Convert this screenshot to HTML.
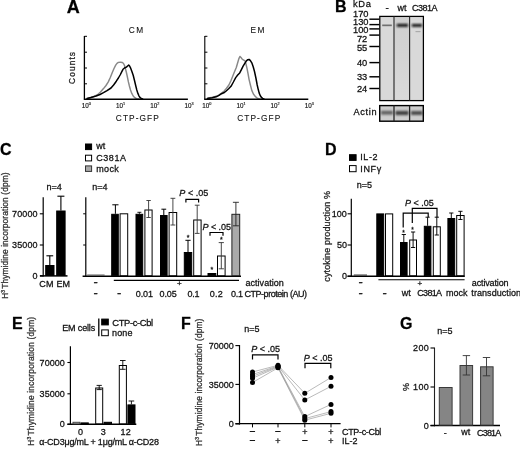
<!DOCTYPE html>
<html><head><meta charset="utf-8"><title>Figure</title>
<style>html,body{margin:0;padding:0;background:#fff}svg{display:block;filter:blur(0.35px)}text{font-family:'Liberation Sans', sans-serif;stroke:#222;stroke-width:0.28px;paint-order:stroke}</style></head><body>
<svg width="520" height="449" viewBox="0 0 520 449">
<rect width="520" height="449" fill="#fff"/>
<text x="66.8" y="12.7" font-size="18" text-anchor="start" font-weight="bold" fill="#000" >A</text>
<line x1="84.4" y1="36" x2="84.4" y2="99.8" stroke="#000" stroke-width="1.3" />
<line x1="84.4" y1="36.3" x2="87.0" y2="36.3" stroke="#000" stroke-width="1.0" />
<line x1="84.4" y1="52.2" x2="87.0" y2="52.2" stroke="#000" stroke-width="1.0" />
<line x1="84.4" y1="68" x2="87.0" y2="68" stroke="#000" stroke-width="1.0" />
<line x1="84.4" y1="83.8" x2="87.0" y2="83.8" stroke="#000" stroke-width="1.0" />
<path d="M88.1 98.3 L93.0 96.8 L97.5 94.7 L100.5 92.0 L103.5 88.6 L106.0 85.5 L108.3 81.9 L110.3 77.5 L112.3 72.5 L114.0 68.5 L115.7 65.1 L117.0 63.3 L118.4 62.4 L120.4 62.2 L122.4 62.5 L123.5 63.5 L124.4 65.3 L125.4 68.5 L126.4 72.5 L127.4 77.0 L128.4 81.9 L129.4 86.0 L130.5 90.0 L131.8 93.4 L133.2 96.0 L134.8 97.7 L136.5 98.7 L139.0 99.0" fill="none" stroke="#888" stroke-width="1.45" stroke-linejoin="round" stroke-linecap="round"/>
<path d="M87.0 98.4 L91.0 97.5 L96.1 96.0 L100.0 94.5 L103.5 92.7 L107.0 90.6 L111.0 88.0 L113.6 85.0 L116.3 81.2 L118.4 78.0 L120.4 74.5 L121.7 71.8 L123.0 69.3 L124.5 68.0 L126.4 67.1 L127.6 66.0 L128.7 65.1 L129.6 66.0 L130.5 67.8 L131.8 71.2 L133.2 75.2 L134.5 80.5 L135.8 86.0 L136.8 90.0 L137.9 93.4 L138.9 95.8 L139.9 97.4 L141.2 98.5 L142.6 99.0" fill="none" stroke="#000" stroke-width="1.5" stroke-linejoin="round" stroke-linecap="round"/>
<line x1="83.9" y1="99.2" x2="187.9" y2="99.2" stroke="#000" stroke-width="1.6" />
<text x="136.8" y="32.7" font-size="8.3" text-anchor="middle" font-weight="normal" fill="#111" letter-spacing="1.5" style="stroke-width:0.1px">CM</text>
<text x="137.3" y="121" font-size="8.3" text-anchor="middle" font-weight="normal" fill="#111" textLength="43" lengthAdjust="spacing" style="stroke-width:0.1px">CTP-GFP</text>
<text x="81.8" y="107.5" font-size="6.3" fill="#111" style="stroke-width:0.15px">10<tspan font-size="3.8" dy="-2.3">0</tspan></text>
<text x="116.0" y="107.5" font-size="6.3" fill="#111" style="stroke-width:0.15px">10<tspan font-size="3.8" dy="-2.3">1</tspan></text>
<text x="150.2" y="107.5" font-size="6.3" fill="#111" style="stroke-width:0.15px">10<tspan font-size="3.8" dy="-2.3">2</tspan></text>
<text x="184.4" y="107.5" font-size="6.3" fill="#111" style="stroke-width:0.15px">10<tspan font-size="3.8" dy="-2.3">3</tspan></text>
<line x1="204.8" y1="36" x2="204.8" y2="99.8" stroke="#000" stroke-width="1.1" />
<line x1="204.8" y1="36.3" x2="207.4" y2="36.3" stroke="#000" stroke-width="1.0" />
<line x1="204.8" y1="52.2" x2="207.4" y2="52.2" stroke="#000" stroke-width="1.0" />
<line x1="204.8" y1="68" x2="207.4" y2="68" stroke="#000" stroke-width="1.0" />
<line x1="204.8" y1="83.8" x2="207.4" y2="83.8" stroke="#000" stroke-width="1.0" />
<path d="M208.1 98.0 L213.0 97.2 L217.5 95.8 L221.0 93.6 L224.2 91.0 L226.5 88.3 L228.9 85.0 L231.0 80.5 L233.0 75.6 L234.6 71.5 L236.3 67.5 L237.6 63.0 L239.0 58.3 L240.0 56.4 L241.2 57.8 L242.4 59.4 L243.8 60.1 L245.1 61.0 L246.1 64.5 L247.1 68.8 L248.1 74.0 L249.1 79.6 L250.4 85.0 L251.8 90.4 L253.4 94.0 L255.2 96.4 L256.8 97.8 L258.5 98.7 L260.0 99.0" fill="none" stroke="#888" stroke-width="1.45" stroke-linejoin="round" stroke-linecap="round"/>
<path d="M207.4 98.4 L212.0 97.8 L216.2 96.8 L219.0 95.4 L221.5 93.7 L223.8 92.8 L226.2 91.0 L228.6 88.8 L231.0 86.3 L233.4 82.0 L235.7 77.6 L237.7 75.0 L239.7 72.9 L241.4 69.6 L243.1 66.2 L244.8 63.3 L246.4 60.8 L247.8 59.7 L249.1 59.4 L250.4 60.6 L251.8 62.8 L253.2 66.8 L254.5 71.5 L255.9 78.0 L257.2 85.0 L258.2 89.3 L259.2 93.1 L260.2 95.5 L261.2 97.1 L262.5 98.4 L263.9 99.0" fill="none" stroke="#000" stroke-width="1.5" stroke-linejoin="round" stroke-linecap="round"/>
<line x1="204.3" y1="99.2" x2="308.3" y2="99.2" stroke="#000" stroke-width="1.6" />
<text x="258.2" y="32.7" font-size="8.3" text-anchor="middle" font-weight="normal" fill="#111" letter-spacing="1.5" style="stroke-width:0.1px">EM</text>
<text x="258.7" y="121" font-size="8.3" text-anchor="middle" font-weight="normal" fill="#111" textLength="43" lengthAdjust="spacing" style="stroke-width:0.1px">CTP-GFP</text>
<text x="202.2" y="107.5" font-size="6.3" fill="#111" style="stroke-width:0.15px">10<tspan font-size="3.8" dy="-2.3">0</tspan></text>
<text x="236.4" y="107.5" font-size="6.3" fill="#111" style="stroke-width:0.15px">10<tspan font-size="3.8" dy="-2.3">1</tspan></text>
<text x="270.6" y="107.5" font-size="6.3" fill="#111" style="stroke-width:0.15px">10<tspan font-size="3.8" dy="-2.3">2</tspan></text>
<text x="304.8" y="107.5" font-size="6.3" fill="#111" style="stroke-width:0.15px">10<tspan font-size="3.8" dy="-2.3">3</tspan></text>
<text transform="translate(75.3 68) rotate(-90)" text-anchor="middle" font-size="8.3" fill="#222" textLength="32" lengthAdjust="spacing">Counts</text>
<text x="335" y="12.3" font-size="16" text-anchor="start" font-weight="bold" fill="#000" >B</text>
<text x="353" y="7.2" font-size="9.3" text-anchor="start" font-weight="normal" fill="#111" textLength="17.8" lengthAdjust="spacing" >kDa</text>
<text x="385.4" y="10.6" font-size="10" text-anchor="start" font-weight="normal" fill="#111" >-</text>
<text x="397.5" y="11" font-size="9" text-anchor="start" font-weight="normal" fill="#111" textLength="9" lengthAdjust="spacing" >wt</text>
<text x="412" y="11" font-size="9" text-anchor="start" font-weight="normal" fill="#111" textLength="25.5" lengthAdjust="spacing" >C381A</text>
<text x="368.5" y="16.6" font-size="9.3" text-anchor="end" font-weight="normal" fill="#111" >170</text>
<line x1="369.4" y1="19.2" x2="379.5" y2="19.2" stroke="#000" stroke-width="1.45" />
<text x="368.5" y="25.1" font-size="9.3" text-anchor="end" font-weight="normal" fill="#111" >130</text>
<line x1="369.4" y1="24.6" x2="379.5" y2="24.6" stroke="#000" stroke-width="1.45" />
<text x="368.5" y="33.2" font-size="9.3" text-anchor="end" font-weight="normal" fill="#111" >100</text>
<line x1="369.4" y1="28.9" x2="379.5" y2="28.9" stroke="#000" stroke-width="1.45" />
<text x="367.3" y="42.2" font-size="9.3" text-anchor="end" font-weight="normal" fill="#111" >72</text>
<line x1="369.4" y1="35.1" x2="379.5" y2="35.1" stroke="#000" stroke-width="1.45" />
<text x="367.3" y="50.6" font-size="9.3" text-anchor="end" font-weight="normal" fill="#111" >55</text>
<line x1="369.4" y1="46.5" x2="379.5" y2="46.5" stroke="#000" stroke-width="1.45" />
<text x="367.3" y="66.3" font-size="9.3" text-anchor="end" font-weight="normal" fill="#111" >40</text>
<line x1="369.4" y1="62.6" x2="379.5" y2="62.6" stroke="#000" stroke-width="1.45" />
<text x="367.3" y="80.4" font-size="9.3" text-anchor="end" font-weight="normal" fill="#111" >33</text>
<line x1="369.4" y1="76.8" x2="379.5" y2="76.8" stroke="#000" stroke-width="1.45" />
<text x="367.3" y="91.6" font-size="9.3" text-anchor="end" font-weight="normal" fill="#111" >24</text>
<line x1="369.4" y1="88.5" x2="379.5" y2="88.5" stroke="#000" stroke-width="1.45" />
<defs><filter id="bl" x="-20%" y="-100%" width="140%" height="300%"><feGaussianBlur stdDeviation="0.7"/></filter><filter id="bl2" x="-20%" y="-100%" width="140%" height="300%"><feGaussianBlur stdDeviation="0.9"/></filter><filter id="bl3" x="-20%" y="-100%" width="140%" height="300%"><feGaussianBlur stdDeviation="1.2"/></filter><linearGradient id="lane2" x1="0" y1="0" x2="0" y2="1"><stop offset="0" stop-color="#cfcfcf"/><stop offset="0.5" stop-color="#d4d4d4"/><stop offset="1" stop-color="#dadada"/></linearGradient></defs>
<rect x="379.8" y="16.4" width="43.6" height="84.2" fill="#d9d9d9"/>
<rect x="394.6" y="16.4" width="14.4" height="83.9" fill="url(#lane2)"/>
<rect x="382.2" y="24.5" width="9.6" height="1.7" fill="#707070" filter="url(#bl)"/>
<rect x="396.8" y="23.9" width="11.2" height="2.9" fill="#0c0c0c" filter="url(#bl2)"/>
<rect x="411.8" y="24.0" width="10.2" height="2.8" fill="#101010" filter="url(#bl2)"/>
<rect x="415.5" y="31" width="5" height="1.2" fill="#aaa" filter="url(#bl)"/>
<rect x="379.8" y="16.4" width="43.6" height="84.2" fill="none" stroke="#000" stroke-width="1.25"/>
<line x1="394.0" y1="16.4" x2="394.0" y2="100.6" stroke="#2a2a2a" stroke-width="1.15" />
<line x1="409.6" y1="16.4" x2="409.6" y2="100.6" stroke="#2a2a2a" stroke-width="1.15" />
<rect x="379.7" y="105.6" width="43.6" height="15.6" fill="#cdcdcd"/>
<rect x="381" y="110.8" width="12" height="3.8" fill="#606060" filter="url(#bl3)"/>
<rect x="395.5" y="110.9" width="13" height="4.2" fill="#404040" filter="url(#bl3)"/>
<rect x="411" y="111.0" width="11.5" height="4.0" fill="#4e4e4e" filter="url(#bl3)"/>
<rect x="379.7" y="105.6" width="43.6" height="15.6" fill="none" stroke="#000" stroke-width="1.4"/>
<line x1="394.0" y1="105.6" x2="394.0" y2="121.2" stroke="#222" stroke-width="1.3" />
<line x1="409.6" y1="105.6" x2="409.6" y2="121.2" stroke="#222" stroke-width="1.3" />
<text x="353.4" y="115" font-size="9.2" text-anchor="start" font-weight="normal" fill="#111" textLength="23.2" lengthAdjust="spacing" >Actin</text>
<text x="0" y="155.3" font-size="16" text-anchor="start" font-weight="bold" fill="#000" >C</text>
<rect x="85.50" y="144.00" width="6.10" height="5.60" fill="#000" stroke="#000" stroke-width="1.0"/>
<rect x="85.50" y="155.20" width="6.10" height="5.70" fill="#fff" stroke="#000" stroke-width="1.0"/>
<rect x="85.50" y="165.90" width="6.10" height="5.50" fill="#aaa" stroke="#333" stroke-width="1.0"/>
<text x="96.2" y="149.3" font-size="9" text-anchor="start" font-weight="normal" fill="#111" >wt</text>
<text x="96.2" y="161.4" font-size="9" text-anchor="start" font-weight="normal" fill="#111" textLength="29.8" lengthAdjust="spacing" >C381A</text>
<text x="96.2" y="171.9" font-size="9" text-anchor="start" font-weight="normal" fill="#111" textLength="22.6" lengthAdjust="spacing" >mock</text>
<text transform="translate(7.7 235.6) rotate(-90)" text-anchor="middle" font-size="8.4" fill="#333" letter-spacing="0.1">H<tspan font-size="5" dy="-3">3</tspan><tspan dy="3" dx="-1.3"> Thymidine incorporation (dpm)</tspan></text>
<text x="46.5" y="189.5" font-size="9" text-anchor="start" font-weight="normal" fill="#111" >n=4</text>
<text x="92.3" y="189.5" font-size="9" text-anchor="start" font-weight="normal" fill="#111" >n=4</text>
<line x1="43.2" y1="197.2" x2="43.2" y2="276.5" stroke="#000" stroke-width="1.2" />
<line x1="40" y1="275.9" x2="67.5" y2="275.9" stroke="#000" stroke-width="1.5" />
<text x="37.6" y="216.9" font-size="9" text-anchor="end" font-weight="normal" fill="#111" textLength="25.5" lengthAdjust="spacing" >70000</text>
<line x1="39.8" y1="213.8" x2="43.2" y2="213.8" stroke="#000" stroke-width="1.1" />
<text x="37.6" y="248.1" font-size="9" text-anchor="end" font-weight="normal" fill="#111" textLength="25.5" lengthAdjust="spacing" >35000</text>
<line x1="39.8" y1="245" x2="43.2" y2="245" stroke="#000" stroke-width="1.1" />
<text x="37.6" y="279.0" font-size="9" text-anchor="end" font-weight="normal" fill="#111" >0</text>
<line x1="39.8" y1="275.9" x2="43.2" y2="275.9" stroke="#000" stroke-width="1.1" />
<rect x="45.70" y="265.50" width="8.30" height="9.90" fill="#000" stroke="#000" stroke-width="1.0"/>
<line x1="49.8" y1="255.8" x2="49.8" y2="265" stroke="#000" stroke-width="1.1" />
<line x1="46.4" y1="255.8" x2="53.199999999999996" y2="255.8" stroke="#000" stroke-width="1.1" />
<rect x="56.70" y="211.00" width="8.40" height="64.40" fill="#000" stroke="#000" stroke-width="1.0"/>
<line x1="60.9" y1="196.2" x2="60.9" y2="210.5" stroke="#000" stroke-width="1.1" />
<line x1="57.4" y1="196.2" x2="64.4" y2="196.2" stroke="#000" stroke-width="1.1" />
<text x="39.3" y="286.5" font-size="9" text-anchor="start" font-weight="normal" fill="#111" textLength="30.8" lengthAdjust="spacing" >CM EM</text>
<line x1="85.8" y1="197.2" x2="85.8" y2="276.8" stroke="#000" stroke-width="1.2" />
<line x1="83.2" y1="213.8" x2="85.8" y2="213.8" stroke="#000" stroke-width="1.0" />
<line x1="83.2" y1="245" x2="85.8" y2="245" stroke="#000" stroke-width="1.0" />
<line x1="82.6" y1="276.3" x2="241" y2="276.3" stroke="#000" stroke-width="1.5" />
<line x1="87.2" y1="275.0" x2="104.6" y2="275.0" stroke="#333" stroke-width="0.8" />
<rect x="111.70" y="214.30" width="6.60" height="61.40" fill="#000" stroke="#000" stroke-width="1.0"/>
<line x1="115.4" y1="204.8" x2="115.4" y2="213.8" stroke="#000" stroke-width="1.0" />
<line x1="112.30000000000001" y1="204.8" x2="118.5" y2="204.8" stroke="#000" stroke-width="1.0" />
<rect x="120.10" y="213.80" width="7.60" height="61.90" fill="#fff" stroke="#000" stroke-width="1.0"/>
<rect x="136.00" y="214.30" width="6.70" height="61.40" fill="#000" stroke="#000" stroke-width="1.0"/>
<line x1="139.4" y1="212.3" x2="139.4" y2="213.8" stroke="#000" stroke-width="0.9" />
<line x1="137.4" y1="212.3" x2="141.4" y2="212.3" stroke="#000" stroke-width="0.9" />
<rect x="144.90" y="210.00" width="7.20" height="65.70" fill="#fff" stroke="#000" stroke-width="1.0"/>
<line x1="148.6" y1="200.5" x2="148.6" y2="217.5" stroke="#333" stroke-width="0.9" />
<line x1="146.4" y1="200.5" x2="150.79999999999998" y2="200.5" stroke="#333" stroke-width="0.9" />
<line x1="146.4" y1="217.5" x2="150.79999999999998" y2="217.5" stroke="#333" stroke-width="0.9" />
<rect x="160.50" y="215.50" width="6.60" height="60.20" fill="#000" stroke="#000" stroke-width="1.0"/>
<line x1="163.8" y1="209.2" x2="163.8" y2="215" stroke="#000" stroke-width="1.0" />
<line x1="161.4" y1="209.2" x2="166.20000000000002" y2="209.2" stroke="#000" stroke-width="1.0" />
<rect x="169.10" y="212.50" width="7.60" height="63.20" fill="#fff" stroke="#000" stroke-width="1.0"/>
<line x1="172.9" y1="198.3" x2="172.9" y2="225" stroke="#333" stroke-width="0.9" />
<line x1="170.5" y1="198.3" x2="175.3" y2="198.3" stroke="#333" stroke-width="0.9" />
<line x1="170.5" y1="225" x2="175.3" y2="225" stroke="#333" stroke-width="0.9" />
<rect x="184.30" y="252.50" width="7.40" height="23.20" fill="#000" stroke="#000" stroke-width="1.0"/>
<line x1="188" y1="240.3" x2="188" y2="252" stroke="#000" stroke-width="1.0" />
<line x1="185.4" y1="240.3" x2="190.6" y2="240.3" stroke="#000" stroke-width="1.0" />
<rect x="193.70" y="220.00" width="7.40" height="55.70" fill="#fff" stroke="#000" stroke-width="1.0"/>
<line x1="197.2" y1="205.2" x2="197.2" y2="233.4" stroke="#333" stroke-width="0.9" />
<line x1="194.79999999999998" y1="205.2" x2="199.6" y2="205.2" stroke="#333" stroke-width="0.9" />
<line x1="194.79999999999998" y1="233.4" x2="199.6" y2="233.4" stroke="#333" stroke-width="0.9" />
<rect x="208.00" y="273.50" width="7.80" height="2.20" fill="#000" stroke="#000" stroke-width="1.0"/>
<rect x="217.50" y="256.00" width="7.60" height="19.70" fill="#fff" stroke="#000" stroke-width="1.0"/>
<line x1="221.3" y1="242.6" x2="221.3" y2="268.8" stroke="#333" stroke-width="0.9" />
<line x1="218.70000000000002" y1="242.6" x2="223.9" y2="242.6" stroke="#333" stroke-width="0.9" />
<line x1="218.70000000000002" y1="268.8" x2="223.9" y2="268.8" stroke="#333" stroke-width="0.9" />
<rect x="231.90" y="214.30" width="7.80" height="61.40" fill="#aaa" stroke="#222" stroke-width="1.0"/>
<line x1="235.9" y1="202.3" x2="235.9" y2="225.8" stroke="#222" stroke-width="0.9" />
<line x1="232.9" y1="202.3" x2="238.9" y2="202.3" stroke="#222" stroke-width="0.9" />
<line x1="232.9" y1="225.8" x2="238.9" y2="225.8" stroke="#222" stroke-width="0.9" />
<text x="188" y="239.5" font-size="7" text-anchor="middle" font-weight="normal" fill="#111" >*</text>
<text x="211.8" y="271.5" font-size="7" text-anchor="middle" font-weight="normal" fill="#111" >*</text>
<text x="221.3" y="241.5" font-size="7" text-anchor="middle" font-weight="normal" fill="#111" >*</text>
<text x="179.3" y="196.4" font-size="9" fill="#111" textLength="29" lengthAdjust="spacing"><tspan font-style="italic">P</tspan> &lt; .05</text>
<path d="M185.9 202.6V199.4H198.6V202.6" fill="none" stroke="#000" stroke-width="1.2"/>
<text x="202.5" y="230.4" font-size="9" fill="#111" textLength="28.5" lengthAdjust="spacing"><tspan font-style="italic">P</tspan> &lt; .05</text>
<path d="M210 235.8V232.5H223V235.8" fill="none" stroke="#000" stroke-width="1.2"/>
<line x1="113.8" y1="280.4" x2="239" y2="280.4" stroke="#000" stroke-width="1.1" />
<text x="93.5" y="285.5" font-size="13" text-anchor="start" font-weight="normal" fill="#111" >-</text>
<text x="179.4" y="286.4" font-size="8" text-anchor="middle" font-weight="normal" fill="#111" >+</text>
<text x="245.5" y="286" font-size="9" text-anchor="start" font-weight="normal" fill="#111" textLength="38.3" lengthAdjust="spacing" >activation</text>
<text x="93.5" y="297" font-size="13" text-anchor="start" font-weight="normal" fill="#111" >-</text>
<text x="117" y="297" font-size="13" text-anchor="start" font-weight="normal" fill="#111" >-</text>
<text x="135.8" y="296.5" font-size="9" text-anchor="start" font-weight="normal" fill="#111" textLength="17.1" lengthAdjust="spacing" >0.01</text>
<text x="159.6" y="296.5" font-size="9" text-anchor="start" font-weight="normal" fill="#111" textLength="17.1" lengthAdjust="spacing" >0.05</text>
<text x="187.4" y="296.5" font-size="9" text-anchor="start" font-weight="normal" fill="#111" textLength="12.0" lengthAdjust="spacing" >0.1</text>
<text x="209.7" y="296.5" font-size="9" text-anchor="start" font-weight="normal" fill="#111" textLength="13" lengthAdjust="spacing" >0.2</text>
<text x="231.0" y="296.5" font-size="9" text-anchor="start" font-weight="normal" fill="#111" textLength="12.0" lengthAdjust="spacing" >0.1</text>
<text x="244.5" y="296.5" font-size="9" text-anchor="start" font-weight="normal" fill="#111" textLength="62.5" lengthAdjust="spacing" >CTP-protein (AU)</text>
<text x="325" y="155.2" font-size="16" text-anchor="start" font-weight="bold" fill="#000" >D</text>
<rect x="349.50" y="154.70" width="6.60" height="5.70" fill="#000" stroke="#000" stroke-width="1.0"/>
<rect x="349.50" y="165.60" width="6.60" height="6.10" fill="#fff" stroke="#000" stroke-width="1.0"/>
<text x="360.2" y="160.4" font-size="9" text-anchor="start" font-weight="normal" fill="#111" textLength="17.4" lengthAdjust="spacing" >IL-2</text>
<text x="360.2" y="172" font-size="9" text-anchor="start" font-weight="normal" fill="#111" textLength="21" lengthAdjust="spacing" >INFγ</text>
<text x="356.7" y="188.2" font-size="9" text-anchor="start" font-weight="normal" fill="#111" >n=5</text>
<text transform="translate(330 236.3) rotate(-90)" text-anchor="middle" font-size="9" fill="#222" textLength="90.8" lengthAdjust="spacing">cytokine production %</text>
<line x1="351.3" y1="198.8" x2="351.3" y2="276.8" stroke="#000" stroke-width="1.2" />
<line x1="347.5" y1="276.2" x2="464.8" y2="276.2" stroke="#000" stroke-width="1.5" />
<text x="346.9" y="216.9" font-size="9" text-anchor="end" font-weight="normal" fill="#111" >100</text>
<line x1="347.6" y1="213.8" x2="351.3" y2="213.8" stroke="#000" stroke-width="1.1" />
<text x="346.9" y="248.1" font-size="9" text-anchor="end" font-weight="normal" fill="#111" >50</text>
<line x1="347.6" y1="245" x2="351.3" y2="245" stroke="#000" stroke-width="1.1" />
<text x="346.9" y="279.3" font-size="9" text-anchor="end" font-weight="normal" fill="#111" >0</text>
<line x1="347.6" y1="276.2" x2="351.3" y2="276.2" stroke="#000" stroke-width="1.1" />
<line x1="353.8" y1="275.0" x2="367" y2="275.0" stroke="#222" stroke-width="0.9" />
<rect x="376.80" y="213.90" width="6.90" height="61.80" fill="#000" stroke="#000" stroke-width="1.0"/>
<rect x="385.50" y="213.90" width="7.20" height="61.80" fill="#fff" stroke="#000" stroke-width="1.0"/>
<rect x="400.50" y="242.50" width="6.60" height="33.20" fill="#000" stroke="#000" stroke-width="1.0"/>
<line x1="403.8" y1="234.5" x2="403.8" y2="242" stroke="#000" stroke-width="0.95" />
<line x1="401.7" y1="234.5" x2="405.90000000000003" y2="234.5" stroke="#000" stroke-width="0.95" />
<rect x="409.70" y="240.00" width="6.80" height="35.70" fill="#fff" stroke="#000" stroke-width="1.0"/>
<line x1="413.1" y1="232" x2="413.1" y2="247.5" stroke="#000" stroke-width="0.95" />
<line x1="411.0" y1="232" x2="415.20000000000005" y2="232" stroke="#000" stroke-width="0.95" />
<line x1="411.0" y1="247.5" x2="415.20000000000005" y2="247.5" stroke="#000" stroke-width="0.95" />
<rect x="424.30" y="226.30" width="6.60" height="49.40" fill="#000" stroke="#000" stroke-width="1.0"/>
<line x1="427.6" y1="217.2" x2="427.6" y2="225.8" stroke="#000" stroke-width="0.95" />
<line x1="425.5" y1="217.2" x2="429.70000000000005" y2="217.2" stroke="#000" stroke-width="0.95" />
<rect x="433.30" y="226.80" width="7.00" height="48.90" fill="#fff" stroke="#000" stroke-width="1.0"/>
<line x1="436.8" y1="217.2" x2="436.8" y2="235" stroke="#000" stroke-width="0.95" />
<line x1="434.7" y1="217.2" x2="438.90000000000003" y2="217.2" stroke="#000" stroke-width="0.95" />
<line x1="434.7" y1="235" x2="438.90000000000003" y2="235" stroke="#000" stroke-width="0.95" />
<rect x="447.90" y="218.50" width="6.80" height="57.20" fill="#000" stroke="#000" stroke-width="1.0"/>
<line x1="451.3" y1="213" x2="451.3" y2="218" stroke="#000" stroke-width="0.95" />
<line x1="449.2" y1="213" x2="453.40000000000003" y2="213" stroke="#000" stroke-width="0.95" />
<rect x="456.70" y="215.50" width="7.40" height="60.20" fill="#fff" stroke="#000" stroke-width="1.0"/>
<line x1="460.4" y1="211.3" x2="460.4" y2="219.5" stroke="#000" stroke-width="0.95" />
<line x1="458.29999999999995" y1="211.3" x2="462.5" y2="211.3" stroke="#000" stroke-width="0.95" />
<line x1="458.29999999999995" y1="219.5" x2="462.5" y2="219.5" stroke="#000" stroke-width="0.95" />
<text x="405" y="205.6" font-size="9" fill="#111" textLength="28.8" lengthAdjust="spacing"><tspan font-style="italic">P</tspan> &lt; .05</text>
<path d="M412.3 223V208.4H437V217.2" fill="none" stroke="#000" stroke-width="1.2"/>
<path d="M403.2 227.5V213.2H428.2V217.2" fill="none" stroke="#000" stroke-width="1.2"/>
<text x="403.6" y="234.5" font-size="6.5" text-anchor="middle" font-weight="normal" fill="#111" >*</text>
<text x="412.6" y="232.3" font-size="6.5" text-anchor="middle" font-weight="normal" fill="#111" >*</text>
<line x1="378.4" y1="279.8" x2="464.6" y2="279.8" stroke="#000" stroke-width="1.1" />
<text x="358.4" y="285.5" font-size="13" text-anchor="start" font-weight="normal" fill="#111" >-</text>
<text x="419.9" y="285.6" font-size="8" text-anchor="middle" font-weight="normal" fill="#111" >+</text>
<text x="471.8" y="285.7" font-size="9" text-anchor="start" font-weight="normal" fill="#111" textLength="36.8" lengthAdjust="spacing" >activation</text>
<text x="358.4" y="297" font-size="13" text-anchor="start" font-weight="normal" fill="#111" >-</text>
<text x="382.4" y="297" font-size="13" text-anchor="start" font-weight="normal" fill="#111" >-</text>
<text x="401.8" y="296.3" font-size="9" text-anchor="start" font-weight="normal" fill="#111" >wt</text>
<text x="417.3" y="296.3" font-size="9" text-anchor="start" font-weight="normal" fill="#111" textLength="24.7" lengthAdjust="spacing" >C381A</text>
<text x="446" y="296.3" font-size="9" text-anchor="start" font-weight="normal" fill="#111" textLength="21.5" lengthAdjust="spacing" >mock</text>
<text x="471.3" y="296.3" font-size="9" text-anchor="start" font-weight="normal" fill="#111" textLength="49.8" lengthAdjust="spacing" >transduction</text>
<text x="12" y="328.8" font-size="16" text-anchor="start" font-weight="bold" fill="#000" >E</text>
<text transform="translate(34.0 381.2) rotate(-90)" text-anchor="middle" font-size="8.4" fill="#333" letter-spacing="0.18">H<tspan font-size="5" dy="-3">3</tspan><tspan dy="3" dx="-1.3"> Thymidine incorporation (dpm)</tspan></text>
<text x="62.2" y="330.8" font-size="9" text-anchor="start" font-weight="normal" fill="#111" textLength="33" lengthAdjust="spacing" >EM cells</text>
<line x1="98.8" y1="318.5" x2="98.8" y2="336.3" stroke="#000" stroke-width="1.3" />
<rect x="101.70" y="319.10" width="6.60" height="5.80" fill="#000" stroke="#000" stroke-width="1.0"/>
<rect x="101.70" y="329.90" width="6.60" height="5.80" fill="#fff" stroke="#000" stroke-width="1.0"/>
<text x="112.2" y="325.8" font-size="9.4" text-anchor="start" font-weight="normal" fill="#111" textLength="41" lengthAdjust="spacing" >CTP-c-Cbl</text>
<text x="112" y="335.9" font-size="9" text-anchor="start" font-weight="normal" fill="#111" textLength="20.5" lengthAdjust="spacing" >none</text>
<line x1="70.4" y1="346.2" x2="70.4" y2="425" stroke="#000" stroke-width="1.2" />
<line x1="67.4" y1="424.3" x2="136.3" y2="424.3" stroke="#000" stroke-width="1.5" />
<text x="64.8" y="365.6" font-size="9" text-anchor="end" font-weight="normal" fill="#111" textLength="25.2" lengthAdjust="spacing" >70000</text>
<line x1="67.4" y1="362.5" x2="70.4" y2="362.5" stroke="#000" stroke-width="1.1" />
<text x="64.8" y="396.90000000000003" font-size="9" text-anchor="end" font-weight="normal" fill="#111" textLength="25.2" lengthAdjust="spacing" >35000</text>
<line x1="67.4" y1="393.8" x2="70.4" y2="393.8" stroke="#000" stroke-width="1.1" />
<text x="64.8" y="427.40000000000003" font-size="9" text-anchor="end" font-weight="normal" fill="#111" >0</text>
<line x1="67.4" y1="424.3" x2="70.4" y2="424.3" stroke="#000" stroke-width="1.1" />
<rect x="73.00" y="422.30" width="6.90" height="1.50" fill="#e4e4e4" stroke="#444" stroke-width="1.0"/>
<rect x="81.10" y="422.90" width="7.20" height="0.90" fill="#000" stroke="#000" stroke-width="1.0"/>
<rect x="95.70" y="388.00" width="7.00" height="35.80" fill="#fff" stroke="#000" stroke-width="1.0"/>
<line x1="99.2" y1="385.4" x2="99.2" y2="389.6" stroke="#000" stroke-width="0.9" />
<line x1="96.60000000000001" y1="385.4" x2="101.8" y2="385.4" stroke="#000" stroke-width="0.9" />
<line x1="96.60000000000001" y1="389.6" x2="101.8" y2="389.6" stroke="#000" stroke-width="0.9" />
<rect x="104.10" y="422.30" width="7.40" height="1.50" fill="#000" stroke="#000" stroke-width="1.0"/>
<rect x="119.30" y="365.50" width="7.10" height="58.30" fill="#fff" stroke="#000" stroke-width="1.0"/>
<line x1="122.8" y1="360.5" x2="122.8" y2="369.3" stroke="#000" stroke-width="0.9" />
<line x1="120.0" y1="360.5" x2="125.6" y2="360.5" stroke="#000" stroke-width="0.9" />
<line x1="120.0" y1="369.3" x2="125.6" y2="369.3" stroke="#000" stroke-width="0.9" />
<rect x="127.90" y="404.90" width="7.10" height="18.90" fill="#000" stroke="#000" stroke-width="1.0"/>
<line x1="131.4" y1="401" x2="131.4" y2="404.4" stroke="#000" stroke-width="0.9" />
<line x1="128.6" y1="401" x2="134.20000000000002" y2="401" stroke="#000" stroke-width="0.9" />
<text x="80.5" y="435.2" font-size="9" text-anchor="middle" font-weight="normal" fill="#111" >0</text>
<text x="103.2" y="435.2" font-size="9" text-anchor="middle" font-weight="normal" fill="#111" >3</text>
<text x="125.6" y="435.2" font-size="9" text-anchor="middle" font-weight="normal" fill="#111" textLength="10.2" lengthAdjust="spacing" >12</text>
<text x="39.3" y="445" font-size="9" text-anchor="start" font-weight="normal" fill="#111" textLength="119.6" lengthAdjust="spacing" >α-CD3μg/mL + 1μg/mL α-CD28</text>
<text x="181" y="328.8" font-size="16" text-anchor="start" font-weight="bold" fill="#000" >F</text>
<text transform="translate(202.4 382.2) rotate(-90)" text-anchor="middle" font-size="8.4" fill="#333" letter-spacing="0.13">H<tspan font-size="5" dy="-3">3</tspan><tspan dy="3" dx="-1.3"> Thymidine incorporation (dpm)</tspan></text>
<text x="244.2" y="331.7" font-size="9" text-anchor="start" font-weight="normal" fill="#111" >n=5</text>
<line x1="239.5" y1="345" x2="239.5" y2="424.6" stroke="#000" stroke-width="1.2" />
<line x1="235.4" y1="423.7" x2="340.6" y2="423.7" stroke="#000" stroke-width="1.25" />
<text x="233.8" y="348.70000000000005" font-size="9" text-anchor="end" font-weight="normal" fill="#111" textLength="25" lengthAdjust="spacing" >70000</text>
<line x1="235.4" y1="345.6" x2="239.5" y2="345.6" stroke="#000" stroke-width="1.1" />
<text x="233.8" y="387.5" font-size="9" text-anchor="end" font-weight="normal" fill="#111" textLength="25" lengthAdjust="spacing" >35000</text>
<line x1="235.4" y1="384.4" x2="239.5" y2="384.4" stroke="#000" stroke-width="1.1" />
<text x="233.8" y="427.0" font-size="9" text-anchor="end" font-weight="normal" fill="#111" >0</text>
<line x1="235.4" y1="423.9" x2="239.5" y2="423.9" stroke="#000" stroke-width="1.1" />
<line x1="252.5" y1="423.9" x2="252.5" y2="427.4" stroke="#000" stroke-width="1.0" />
<line x1="278" y1="423.9" x2="278" y2="427.4" stroke="#000" stroke-width="1.0" />
<line x1="304.8" y1="423.9" x2="304.8" y2="427.4" stroke="#000" stroke-width="1.0" />
<line x1="331" y1="423.9" x2="331" y2="427.4" stroke="#000" stroke-width="1.0" />
<polyline points="252.5,372 278,365.3 304.8,393.3 331,377.5" fill="none" stroke="#959595" stroke-width="0.65"/>
<polyline points="252.5,374.5 278,366 304.8,400 331,386.3" fill="none" stroke="#959595" stroke-width="0.65"/>
<polyline points="252.5,376.3 278,366.6 304.8,416.6 331,404.4" fill="none" stroke="#959595" stroke-width="0.65"/>
<polyline points="252.5,378.2 278,367.2 304.8,418.6 331,411.6" fill="none" stroke="#959595" stroke-width="0.65"/>
<polyline points="252.5,382.5 278,367.8 304.8,420.2 331,413.3" fill="none" stroke="#959595" stroke-width="0.65"/>
<circle cx="252.5" cy="372" r="2.5" fill="#000"/>
<circle cx="252.5" cy="374.5" r="2.5" fill="#000"/>
<circle cx="252.5" cy="376.3" r="2.5" fill="#000"/>
<circle cx="252.5" cy="378.2" r="2.5" fill="#000"/>
<circle cx="252.5" cy="382.5" r="2.5" fill="#000"/>
<circle cx="278" cy="365.3" r="2.5" fill="#000"/>
<circle cx="278" cy="366" r="2.5" fill="#000"/>
<circle cx="278" cy="366.6" r="2.5" fill="#000"/>
<circle cx="278" cy="367.2" r="2.5" fill="#000"/>
<circle cx="278" cy="367.8" r="2.5" fill="#000"/>
<circle cx="304.8" cy="393.3" r="2.5" fill="#000"/>
<circle cx="304.8" cy="400" r="2.5" fill="#000"/>
<circle cx="304.8" cy="416.6" r="2.5" fill="#000"/>
<circle cx="304.8" cy="418.6" r="2.5" fill="#000"/>
<circle cx="304.8" cy="420.2" r="2.5" fill="#000"/>
<circle cx="331" cy="377.5" r="2.5" fill="#000"/>
<circle cx="331" cy="386.3" r="2.5" fill="#000"/>
<circle cx="331" cy="404.4" r="2.5" fill="#000"/>
<circle cx="331" cy="411.6" r="2.5" fill="#000"/>
<circle cx="331" cy="413.3" r="2.5" fill="#000"/>
<text x="251.3" y="352" font-size="9" fill="#111" textLength="28.8" lengthAdjust="spacing"><tspan font-style="italic">P</tspan> &lt; .05</text>
<path d="M252.5 359.6V354.8H278V359.6" fill="none" stroke="#000" stroke-width="1.2"/>
<text x="303.8" y="360.6" font-size="9" fill="#111" textLength="28.8" lengthAdjust="spacing"><tspan font-style="italic">P</tspan> &lt; .05</text>
<path d="M305 368.2V363.3H330.8V368.2" fill="none" stroke="#000" stroke-width="1.2"/>
<text x="252.5" y="434.2" font-size="8.6" text-anchor="middle" font-weight="normal" fill="#111" style="stroke-width:0.55px">–</text>
<text x="278" y="434.2" font-size="8.6" text-anchor="middle" font-weight="normal" fill="#111" style="stroke-width:0.55px">–</text>
<text x="304.8" y="434.9" font-size="9" text-anchor="middle" font-weight="normal" fill="#111" >+</text>
<text x="331" y="434.9" font-size="9" text-anchor="middle" font-weight="normal" fill="#111" >+</text>
<text x="252.5" y="443.2" font-size="8.6" text-anchor="middle" font-weight="normal" fill="#111" style="stroke-width:0.55px">–</text>
<text x="278" y="443.7" font-size="9" text-anchor="middle" font-weight="normal" fill="#111" >+</text>
<text x="304.8" y="443.2" font-size="8.6" text-anchor="middle" font-weight="normal" fill="#111" style="stroke-width:0.55px">–</text>
<text x="331" y="443.7" font-size="9" text-anchor="middle" font-weight="normal" fill="#111" >+</text>
<text x="342" y="435" font-size="9" text-anchor="start" font-weight="normal" fill="#111" textLength="39.3" lengthAdjust="spacing" >CTP-c-Cbl</text>
<text x="342" y="444.4" font-size="9" text-anchor="start" font-weight="normal" fill="#111" textLength="15.5" lengthAdjust="spacing" >IL-2</text>
<text x="400" y="328.8" font-size="16" text-anchor="start" font-weight="bold" fill="#000" >G</text>
<text x="437.3" y="334.3" font-size="9" text-anchor="start" font-weight="normal" fill="#111" >n=5</text>
<line x1="434.5" y1="347.6" x2="434.5" y2="426.3" stroke="#222" stroke-width="1.1" />
<line x1="430.5" y1="425.6" x2="500" y2="425.6" stroke="#000" stroke-width="1.5" />
<text x="428.8" y="351.1" font-size="9" text-anchor="end" font-weight="normal" fill="#111" textLength="15.8" lengthAdjust="spacing" >200</text>
<line x1="430.5" y1="348" x2="434.5" y2="348" stroke="#000" stroke-width="1.1" />
<text x="428.8" y="390.1" font-size="9" text-anchor="end" font-weight="normal" fill="#111" textLength="15.8" lengthAdjust="spacing" >100</text>
<line x1="430.5" y1="387" x2="434.5" y2="387" stroke="#000" stroke-width="1.1" />
<text x="428.8" y="428.70000000000005" font-size="9" text-anchor="end" font-weight="normal" fill="#111" >0</text>
<line x1="430.5" y1="425.6" x2="434.5" y2="425.6" stroke="#000" stroke-width="1.1" />
<text transform="translate(408.8 387) rotate(-90)" text-anchor="middle" font-size="9" fill="#222">%</text>
<rect x="439.30" y="387.50" width="12.80" height="37.60" fill="#858585" stroke="#3a3a3a" stroke-width="1.0"/>
<rect x="460.00" y="365.50" width="12.60" height="59.60" fill="#858585" stroke="#3a3a3a" stroke-width="1.0"/>
<line x1="466.4" y1="355.6" x2="466.4" y2="375" stroke="#333" stroke-width="0.9" />
<line x1="462.7" y1="355.6" x2="470.09999999999997" y2="355.6" stroke="#333" stroke-width="0.9" />
<line x1="462.7" y1="375" x2="470.09999999999997" y2="375" stroke="#333" stroke-width="0.9" />
<rect x="480.60" y="366.80" width="12.50" height="58.30" fill="#858585" stroke="#3a3a3a" stroke-width="1.0"/>
<line x1="486.5" y1="357.5" x2="486.5" y2="375.8" stroke="#333" stroke-width="0.9" />
<line x1="482.8" y1="357.5" x2="490.2" y2="357.5" stroke="#333" stroke-width="0.9" />
<line x1="482.8" y1="375.8" x2="490.2" y2="375.8" stroke="#333" stroke-width="0.9" />
<text x="443.8" y="435.5" font-size="9" text-anchor="start" font-weight="normal" fill="#111" >-</text>
<text x="461.3" y="435.3" font-size="9" text-anchor="start" font-weight="normal" fill="#111" >wt</text>
<text x="477" y="435.5" font-size="9" text-anchor="start" font-weight="normal" fill="#111" textLength="24.3" lengthAdjust="spacing" >C381A</text>
</svg></body></html>
